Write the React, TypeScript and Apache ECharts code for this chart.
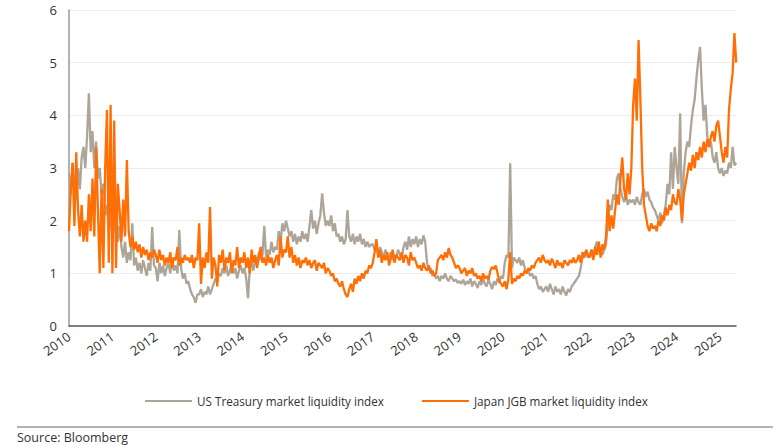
import React, { useEffect, useRef } from "react";
import * as echarts from "echarts";

// Half-monthly readings (24 per year) starting January 2010.
const START_YEAR = 2010;
const STEPS_PER_YEAR = 24;

const yearTicks = [2010, 2011, 2012, 2013, 2014, 2015, 2016, 2017, 2018, 2019, 2020, 2021, 2022, 2023, 2024, 2025];

const ust2010 = [2.9, 2.5, 3.1, 2.7, 2.4, 3.0, 2.6, 3.2, 3.4, 3.0, 3.6, 4.42, 3.3, 3.7, 3.0, 3.5, 2.8, 3.0, 2.5, 2.7, 2.1, 2.3, 1.8, 2.0];
const ust2011 = [2.1, 1.8, 2.3, 1.6, 1.9, 1.5, 1.3, 1.6, 1.2, 1.4, 1.25, 1.95, 1.15, 1.3, 1.05, 1.2, 1.0, 1.25, 1.1, 0.95, 1.2, 1.05, 1.88, 1.15];
const ust2012 = [1.1, 0.85, 1.2, 1.0, 1.15, 0.95, 1.1, 1.2, 1.0, 1.3, 1.05, 1.15, 1.0, 1.82, 1.1, 0.9, 1.0, 0.8, 0.85, 0.7, 0.6, 0.55, 0.44, 0.6];
const ust2013 = [0.6, 0.7, 0.55, 0.65, 0.6, 0.75, 0.6, 0.7, 0.8, 0.9, 0.85, 1.0, 0.95, 1.1, 1.0, 1.15, 0.95, 1.05, 1.2, 1.0, 1.1, 0.9, 1.05, 1.15];
const ust2014 = [1.0, 1.1, 0.9, 0.53, 1.1, 1.2, 1.05, 1.3, 1.15, 1.4, 1.25, 1.35, 1.9, 1.3, 1.45, 1.35, 1.6, 1.4, 1.5, 1.45, 1.8, 1.6, 1.95, 1.8];
const ust2015 = [2.0, 1.85, 1.7, 1.8, 1.6, 1.75, 1.55, 1.7, 1.6, 1.8, 1.65, 1.75, 1.6, 1.9, 2.2, 1.85, 2.0, 1.75, 1.95, 2.1, 2.52, 2.15, 1.9, 2.0];
const ust2016 = [1.9, 2.1, 1.8, 1.95, 1.7, 1.75, 1.6, 1.7, 1.55, 1.65, 2.2, 1.7, 1.6, 1.75, 1.55, 1.7, 1.6, 1.75, 1.55, 1.65, 1.5, 1.6, 1.5, 1.55];
const ust2017 = [1.55, 1.45, 1.5, 1.35, 1.5, 1.4, 1.3, 1.45, 1.35, 1.3, 1.4, 1.25, 1.35, 1.3, 1.45, 1.35, 1.3, 1.5, 1.6, 1.45, 1.7, 1.5, 1.65, 1.55];
const ust2018 = [1.7, 1.5, 1.65, 1.55, 1.72, 1.6, 1.2, 1.05, 1.1, 0.95, 1.0, 0.9, 0.95, 0.85, 0.95, 0.9, 1.0, 0.9, 0.85, 0.95, 0.9, 0.85, 0.88, 0.82];
const ust2019 = [0.85, 0.8, 0.88, 0.78, 0.85, 0.8, 0.9, 0.75, 0.85, 0.8, 0.72, 0.85, 0.78, 0.9, 0.8, 0.75, 0.88, 0.8, 0.7, 0.85, 0.78, 0.9, 0.82, 0.95];
const ust2020 = [0.9, 1.2, 1.35, 1.3, 3.09, 1.1, 1.3, 1.25, 1.2, 1.3, 1.15, 1.25, 1.1, 1.0, 1.05, 0.95, 1.0, 0.9, 0.95, 0.8, 0.7, 0.75, 0.65, 0.7];
const ust2021 = [0.75, 0.65, 0.8, 0.7, 0.6, 0.75, 0.65, 0.7, 0.6, 0.75, 0.65, 0.58, 0.7, 0.65, 0.75, 0.8, 0.85, 0.9, 0.95, 1.1, 1.3, 1.4, 1.35, 1.3];
const ust2022 = [1.35, 1.45, 1.3, 1.5, 1.6, 1.4, 1.5, 1.35, 1.45, 1.55, 2.0, 2.3, 2.2, 2.5, 2.4, 2.8, 2.9, 2.6, 2.45, 2.35, 2.5, 2.3, 2.4, 2.35];
const ust2023 = [2.4, 2.3, 2.45, 2.35, 2.3, 2.5, 2.6, 2.45, 2.55, 2.4, 2.35, 2.25, 2.2, 2.1, 2.0, 2.15, 1.95, 2.1, 2.3, 2.7, 2.5, 3.3, 2.6, 3.4];
const ust2024 = [3.0, 2.7, 4.04, 1.95, 2.9, 3.3, 3.5, 3.4, 3.8, 4.1, 4.3, 4.7, 5.05, 5.3, 4.5, 3.9, 4.2, 3.6, 3.4, 3.5, 3.2, 3.1, 3.3, 3.0];
const ust2025 = [2.9, 3.0, 2.85, 2.95, 2.9, 3.1, 3.0, 3.4, 3.05, 3.1];

const jgb2010 = [1.8, 2.6, 3.1, 1.9, 3.3, 2.2, 1.7, 2.3, 1.6, 2.0, 1.6, 2.5, 1.8, 2.8, 1.7, 3.4, 2.2, 1.0, 2.6, 1.1, 3.0, 4.1, 1.2, 4.2];
const jgb2011 = [1.0, 3.9, 1.1, 2.7, 2.2, 1.6, 2.4, 1.7, 3.15, 1.8, 1.5, 1.7, 1.45, 1.6, 1.4, 1.55, 1.3, 1.5, 1.35, 1.45, 1.25, 1.4, 1.3, 1.45];
const jgb2012 = [1.35, 1.2, 1.45, 1.25, 1.35, 1.15, 1.3, 1.2, 1.4, 1.1, 1.3, 1.25, 1.5, 1.15, 1.3, 1.2, 1.35, 1.25, 1.3, 1.2, 1.35, 1.1, 1.3, 1.25];
const jgb2013 = [1.95, 0.8, 1.3, 1.1, 1.4, 1.2, 2.26, 0.9, 1.3, 1.15, 0.75, 1.35, 1.2, 1.45, 1.05, 1.3, 1.2, 1.4, 1.0, 1.25, 1.15, 1.5, 1.1, 1.3];
const jgb2014 = [1.2, 1.4, 1.1, 1.3, 1.0, 1.45, 1.2, 1.35, 1.1, 1.3, 1.5, 1.2, 1.3, 1.15, 1.35, 1.2, 1.3, 1.1, 1.25, 1.35, 1.15, 1.7, 1.3, 1.45];
const jgb2015 = [1.4, 1.7, 1.3, 1.5, 1.2, 1.35, 1.15, 1.3, 1.1, 1.25, 1.2, 1.3, 1.15, 1.25, 1.1, 1.2, 1.25, 1.05, 1.2, 1.15, 1.1, 1.2, 1.0, 1.1];
const jgb2016 = [1.05, 0.95, 1.0, 0.85, 0.9, 0.8, 0.75, 0.85, 0.7, 0.6, 0.55, 0.7, 0.8, 0.65, 0.9, 0.8, 0.95, 0.85, 1.0, 0.9, 1.05, 1.0, 1.15, 1.1];
const jgb2017 = [1.2, 1.4, 1.65, 1.3, 1.45, 1.2, 1.35, 1.25, 1.4, 1.15, 1.3, 1.45, 1.2, 1.35, 1.3, 1.25, 1.4, 1.2, 1.35, 1.3, 1.15, 1.4, 1.25, 1.3];
const jgb2018 = [1.2, 1.1, 1.15, 1.05, 1.2, 1.1, 1.05, 1.15, 1.0, 1.05, 0.95, 1.0, 1.25, 1.3, 1.35, 1.25, 1.4, 1.3, 1.48, 1.35, 1.3, 1.2, 1.1, 1.15];
const jgb2019 = [1.1, 1.0, 1.05, 1.1, 0.95, 1.05, 1.0, 1.1, 0.95, 1.0, 0.9, 0.95, 0.85, 1.0, 0.9, 0.95, 0.88, 1.05, 1.12, 1.08, 1.15, 1.0, 0.85, 0.8];
const jgb2020 = [0.75, 0.85, 0.7, 0.9, 1.4, 0.8, 0.9, 0.85, 0.95, 0.9, 1.0, 0.95, 1.05, 1.0, 1.1, 1.05, 1.15, 1.1, 1.2, 1.25, 1.3, 1.2, 1.35, 1.25];
const jgb2021 = [1.2, 1.25, 1.15, 1.28, 1.2, 1.1, 1.25, 1.15, 1.2, 1.1, 1.25, 1.2, 1.15, 1.25, 1.2, 1.3, 1.2, 1.25, 1.35, 1.2, 1.4, 1.3, 1.45, 1.35];
const jgb2022 = [1.3, 1.45, 1.25, 1.5, 1.35, 1.6, 1.3, 1.55, 1.45, 1.7, 2.4, 1.8, 2.1, 1.85, 2.2, 2.5, 2.3, 2.8, 3.2, 2.6, 2.4, 2.9, 2.5, 3.0];
const jgb2023 = [4.2, 4.7, 3.9, 5.43, 4.3, 3.0, 2.3, 2.1, 1.9, 1.8, 1.95, 1.85, 1.9, 1.8, 2.0, 1.9, 2.1, 2.0, 2.25, 2.1, 2.3, 2.2, 2.5, 2.35];
const jgb2024 = [2.3, 2.6, 2.4, 2.0, 2.5, 2.7, 2.9, 3.1, 2.95, 3.25, 3.0, 3.3, 3.15, 3.4, 3.2, 3.5, 3.3, 3.55, 3.4, 3.6, 3.7, 3.5, 3.8, 3.9];
const jgb2025 = [3.6, 3.3, 3.1, 3.4, 3.2, 4.1, 4.5, 4.8, 5.56, 5.0];

const ustValues = [
  ...ust2010, ...ust2011, ...ust2012, ...ust2013, ...ust2014, ...ust2015, ...ust2016, ...ust2017,
  ...ust2018, ...ust2019, ...ust2020, ...ust2021, ...ust2022, ...ust2023, ...ust2024, ...ust2025,
];
const jgbValues = [
  ...jgb2010, ...jgb2011, ...jgb2012, ...jgb2013, ...jgb2014, ...jgb2015, ...jgb2016, ...jgb2017,
  ...jgb2018, ...jgb2019, ...jgb2020, ...jgb2021, ...jgb2022, ...jgb2023, ...jgb2024, ...jgb2025,
];

const seriesNames = ["US Treasury market liquidity index", "Japan JGB market liquidity index"];
const seriesColors = ["#ada597", "#ff6f05"];

const toPoints = (values: number[]) =>
  values.map((v, i) => [START_YEAR + i / STEPS_PER_YEAR, v]);

const FONT = "'Open Sans', 'Noto Sans', sans-serif";

export default function App() {
  const ref = useRef<HTMLDivElement>(null);

  useEffect(() => {
    if (!ref.current) return;
    const chart = echarts.init(ref.current, undefined, { renderer: "svg" });
    chart.setOption({
      animation: false,
      backgroundColor: "#ffffff",
      textStyle: { fontFamily: FONT },
      grid: { left: 69, right: 37, top: 10, bottom: 119, containLabel: false },
      xAxis: {
        type: "value",
        min: yearTicks[0],
        max: 2025.37,
        interval: 1,
        axisLine: { show: true, lineStyle: { color: "#555555", width: 1.5 } },
        axisTick: { show: false },
        splitLine: { show: false },
        axisLabel: {
          rotate: 35,
          margin: 9,
          fontSize: 13,
          color: "#333333",
          fontFamily: FONT,
          formatter: (v: number) => (yearTicks.includes(v) ? String(v) : ""),
        },
      },
      yAxis: {
        type: "value",
        min: 0,
        max: 6,
        interval: 1,
        axisLine: { show: true, lineStyle: { color: "#9a9a9a", width: 1.5 } },
        axisTick: { show: false },
        splitLine: { show: true, lineStyle: { color: "#ececec", width: 1 } },
        axisLabel: { margin: 12, fontSize: 13, color: "#333333", fontFamily: FONT },
      },
      legend: {
        left: 140,
        top: 390,
        icon: "rect",
        itemWidth: 47,
        itemHeight: 2,
        itemGap: 38,
        textStyle: { fontSize: 11.7, color: "#333333", fontFamily: FONT },
        data: seriesNames,
      },
      graphic: [
        {
          type: "line",
          shape: { x1: 17, y1: 427, x2: 773, y2: 427 },
          style: { stroke: "#b3b3b3", lineWidth: 2 },
        },
        {
          type: "text",
          left: 17,
          top: 431,
          style: { text: "Source: Bloomberg", fontSize: 12.5, fill: "#333333", fontFamily: FONT },
        },
      ],
      series: [
        {
          name: seriesNames[0],
          type: "line",
          data: toPoints(ustValues),
          symbol: "none",
          color: seriesColors[0],
          lineStyle: { width: 2.3, color: seriesColors[0] },
        },
        {
          name: seriesNames[1],
          type: "line",
          data: toPoints(jgbValues),
          symbol: "none",
          color: seriesColors[1],
          lineStyle: { width: 2.3, color: seriesColors[1] },
        },
      ],
    });
    return () => chart.dispose();
  }, []);

  return (
    <div
      ref={ref}
      style={{ position: "fixed", left: 0, top: 0, width: 773, height: 445 }}
    />
  );
}
